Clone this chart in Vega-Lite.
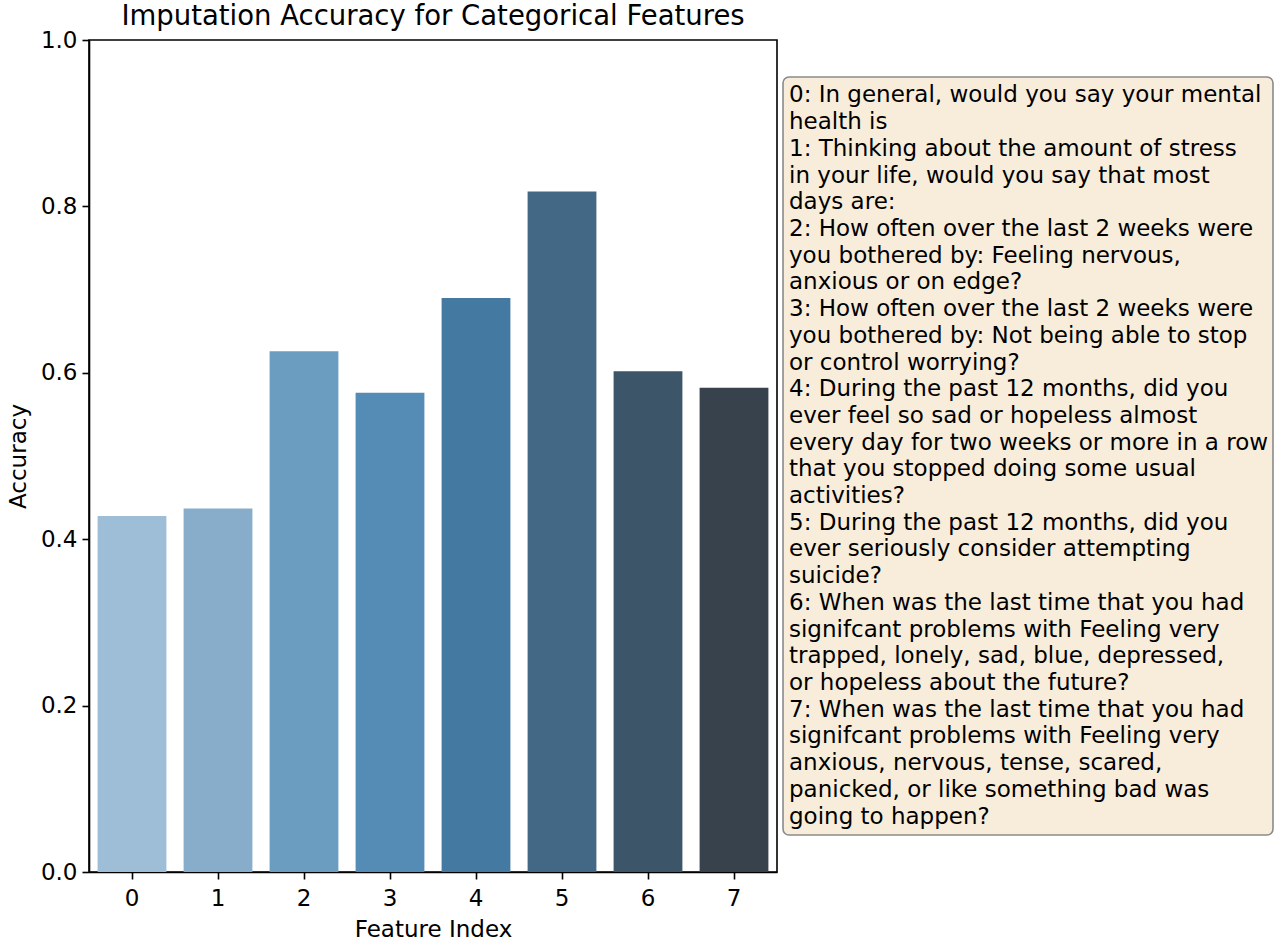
{
  "$schema": "https://vega.github.io/schema/vega-lite/v6.json",
  "background": "white",
  "padding": {"left": 6, "top": 1, "right": 3, "bottom": 0},
  "config": {
    "font": "DejaVu Sans",
    "axis": {"labelFont": "DejaVu Sans", "titleFont": "DejaVu Sans", "labelFontSize": 23, "titleFontSize": 23, "titleFontWeight": "normal", "labelColor": "black", "titleColor": "black", "domainColor": "black", "tickColor": "black", "domainWidth": 1.6, "tickWidth": 1.6, "tickSize": 7, "grid": false},
    "title": {"font": "DejaVu Sans", "fontSize": 27.5, "fontWeight": "normal", "color": "black"},
    "concat": {"spacing": 4}
  },
  "datasets": {
    "bars": [
      {"feature": "0", "accuracy": 0.428},
      {"feature": "1", "accuracy": 0.437},
      {"feature": "2", "accuracy": 0.626},
      {"feature": "3", "accuracy": 0.576},
      {"feature": "4", "accuracy": 0.690},
      {"feature": "5", "accuracy": 0.818},
      {"feature": "6", "accuracy": 0.602},
      {"feature": "7", "accuracy": 0.582}
    ],
    "legend": [
      {"line": 0, "text": "0: In general, would you say your mental"},
      {"line": 1, "text": "health is"},
      {"line": 2, "text": "1: Thinking about the amount of stress"},
      {"line": 3, "text": "in your life, would you say that most"},
      {"line": 4, "text": "days are:"},
      {"line": 5, "text": "2: How often over the last 2 weeks were"},
      {"line": 6, "text": "you bothered by: Feeling nervous,"},
      {"line": 7, "text": "anxious or on edge?"},
      {"line": 8, "text": "3: How often over the last 2 weeks were"},
      {"line": 9, "text": "you bothered by: Not being able to stop"},
      {"line": 10, "text": "or control worrying?"},
      {"line": 11, "text": "4: During the past 12 months, did you"},
      {"line": 12, "text": "ever feel so sad or hopeless almost"},
      {"line": 13, "text": "every day for two weeks or more in a row"},
      {"line": 14, "text": "that you stopped doing some usual"},
      {"line": 15, "text": "activities?"},
      {"line": 16, "text": "5: During the past 12 months, did you"},
      {"line": 17, "text": "ever seriously consider attempting"},
      {"line": 18, "text": "suicide?"},
      {"line": 19, "text": "6: When was the last time that you had"},
      {"line": 20, "text": "signifcant problems with Feeling very"},
      {"line": 21, "text": "trapped, lonely, sad, blue, depressed,"},
      {"line": 22, "text": "or hopeless about the future?"},
      {"line": 23, "text": "7: When was the last time that you had"},
      {"line": 24, "text": "signifcant problems with Feeling very"},
      {"line": 25, "text": "anxious, nervous, tense, scared,"},
      {"line": 26, "text": "panicked, or like something bad was"},
      {"line": 27, "text": "going to happen?"}
    ]
  },
  "hconcat": [
    {
      "width": 688,
      "height": 832,
      "title": {"text": "Imputation Accuracy for Categorical Features", "offset": -1},
      "view": {"stroke": "black", "strokeWidth": 1.6, "fill": "white"},
      "data": {"name": "bars"},
      "mark": {"type": "bar"},
      "encoding": {
        "x": {"field": "feature", "type": "nominal", "title": "Feature Index", "sort": null,
              "scale": {"paddingInner": 0.2, "paddingOuter": 0.1},
              "axis": {"labelAngle": 0, "labelPadding": 8, "titlePadding": 8}},
        "y": {"field": "accuracy", "type": "quantitative", "title": "Accuracy",
              "scale": {"domain": [0, 1], "nice": false, "zero": true},
              "axis": {"values": [0, 0.2, 0.4, 0.6, 0.8, 1.0], "format": ".1f", "labelPadding": 5, "titlePadding": 10}},
        "color": {"field": "feature", "type": "nominal", "legend": null, "sort": null,
                  "scale": {"range": ["#9ebdd6", "#87adcb", "#6b9dc0", "#548cb6", "#447aa2", "#426886", "#3c5568", "#37424c"]}}
      }
    },
    {
      "spacing": 0,
      "vconcat": [
        {
          "width": 490,
          "height": 36,
          "view": {"stroke": null, "fill": null},
          "data": {"values": [{"blank": ""}]},
          "mark": {"type": "text"},
          "encoding": {"text": {"field": "blank"}}
        },
        {
          "width": 490,
          "height": 758,
          "view": {"fill": "#f8eddb", "stroke": "#8a8a8a", "strokeWidth": 1.6, "cornerRadius": 6},
          "data": {"name": "legend"},
          "mark": {"type": "text", "align": "left", "baseline": "middle", "fontSize": 23, "font": "DejaVu Sans", "color": "black", "dx": 6},
          "encoding": {
            "x": {"datum": 0, "type": "quantitative", "scale": {"domain": [0, 1]}, "axis": null},
            "y": {"field": "line", "type": "ordinal", "axis": null, "scale": {"padding": 0.69}},
            "text": {"field": "text"}
          }
        }
      ]
    }
  ]
}
